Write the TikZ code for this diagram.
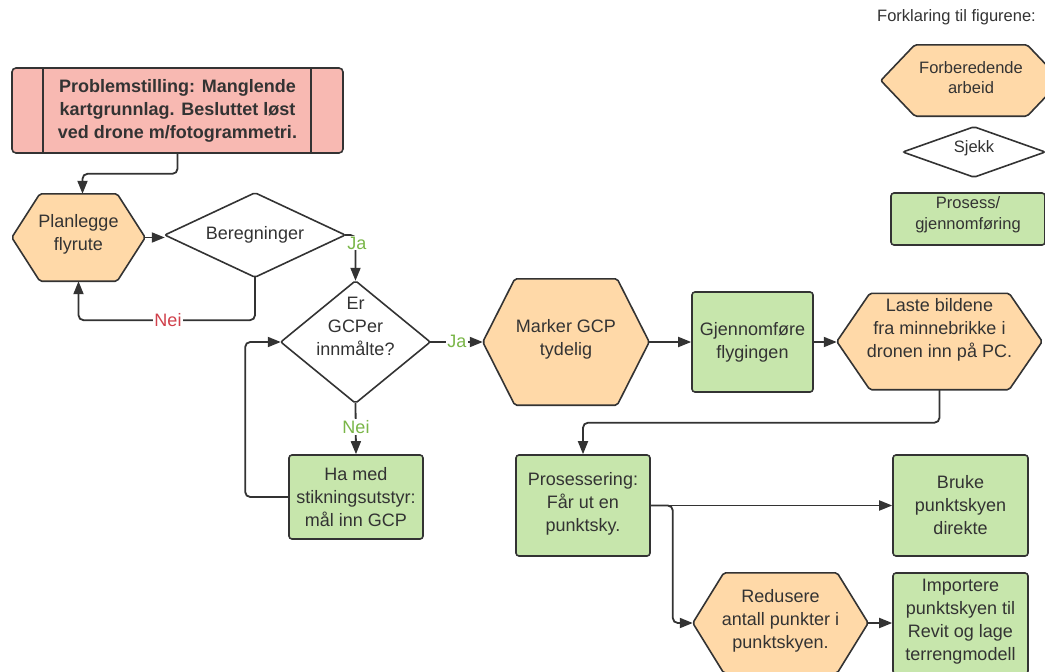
\documentclass[tikz,border=0pt]{standalone}
\usepackage{fontspec}
\setmainfont{Liberation Sans}
\usetikzlibrary{arrows.meta,backgrounds,calc}
\definecolor{ink}{HTML}{333333}
\definecolor{orangefill}{HTML}{FFD9A8}
\definecolor{greenfill}{HTML}{C7E6AC}
\definecolor{pinkfill}{HTML}{F8B9B2}
\definecolor{jagreen}{HTML}{7AB648}
\definecolor{neired}{HTML}{D0404B}

\newcommand\liftbox[2]{\raisebox{#1}[\height][\depth]{\begin{tabular}{@{}c@{}}#2\end{tabular}}}
\newcommand\drawhex[2]{\draw[shapeline, fill=orangefill] ([xshift=#2]#1.north west) -- ([xshift=-#2]#1.north east) -- (#1.east) -- ([xshift=-#2]#1.south east) -- ([xshift=#2]#1.south west) -- (#1.west) -- cycle;}
\newcommand\drawdiamond[1]{\draw[shapeline, fill=white] (#1.north) -- (#1.east) -- (#1.south) -- (#1.west) -- cycle;}

\tikzset{
 shapeline/.style={draw=ink, line width=1.6pt, rounded corners=2pt},
 txt/.style={font=\fontsize{18}{23}\selectfont, text=ink, align=center, inner sep=0pt},
 slot/.style={txt, rectangle, draw=none},
 procbox/.style={txt, rectangle, draw=ink, line width=1.6pt, fill=greenfill, rounded corners=3pt},
 conn/.style={draw=ink, line width=1.8pt, rounded corners=5pt, -{Triangle[length=13pt,width=10pt]}},
 jalabel/.style={txt, text=jagreen, fill=white, inner sep=1pt},
 neilabel/.style={txt, text=neired, fill=white, inner sep=1pt},
 legtxt/.style={font=\fontsize{16.5}{20.5}\selectfont, text=ink, align=center, inner sep=0pt},
 legslot/.style={legtxt, rectangle, draw=none},
 legbox/.style={legtxt, rectangle, draw=ink, line width=1.6pt, fill=greenfill, rounded corners=3pt},
}

\begin{document}
\begin{tikzpicture}[x=1pt, y=-1pt]
\useasboundingbox (0,0) rectangle (1045,672);

% problem statement
\node[txt, font=\fontsize{18}{23}\selectfont\bfseries, draw=ink, fill=pinkfill, rounded corners=4pt, line width=1.6pt, minimum width=331, minimum height=85] (prob) at (177.5,110.5) {Problemstilling: Manglende\\kartgrunnlag. Besluttet løst\\ved drone m/fotogrammetri.};
\draw[ink, line width=1.6pt] ([xshift=32]prob.north west) -- ([xshift=32]prob.south west);
\draw[ink, line width=1.6pt] ([xshift=-33]prob.north east) -- ([xshift=-33]prob.south east);

% flow nodes
\node[slot, minimum width=133, minimum height=87] (plan) at (78.5,237.5) {\liftbox{3pt}{Planlegge\\flyrute}};
\node[slot, minimum width=180, minimum height=84] (ber) at (255,235) {Beregninger};
\node[slot, minimum width=149, minimum height=122] (gcp) at (355.5,342) {\liftbox{14pt}{Er\\GCPer\\innmålte?}};
\node[procbox, minimum width=134, minimum height=84] (hamed) at (356,497) {Ha med\\stikningsutstyr:\\mål inn GCP};
\node[slot, minimum width=166, minimum height=126] (marker) at (566,342) {\liftbox{3pt}{Marker GCP\\tydelig}};
\node[procbox, minimum width=121, minimum height=100] (gjen) at (752.5,342) {Gjennomføre\\flygingen};
\node[slot, minimum width=205, minimum height=96] (laste) at (939.5,341.5) {\liftbox{12pt}{Laste bildene\\fra minnebrikke i\\dronen inn på PC.}};
\node[procbox, minimum width=134, minimum height=101] (pros) at (583,505.5) {\liftbox{2pt}{Prosessering:\\Får ut en\\punktsky.}};
\node[procbox, minimum width=135, minimum height=101] (bruke) at (960.5,505.5) {Bruke\\punktskyen\\direkte};
\node[slot, minimum width=175, minimum height=100] (red) at (780.5,623) {\liftbox{2pt}{Redusere\\antall punkter i\\punktskyen.}};
\node[procbox, minimum width=135, minimum height=101] (imp) at (960.5,623.5) {\liftbox{2pt}{Importere\\punktskyen til\\Revit og lage\\terrengmodell}};

% legend
\node[legtxt] (legtitle) at (956.5,17) {Forklaring til figurene:};
\node[legslot, minimum width=180, minimum height=71] (leghex) at (971,80.5) {\liftbox{1pt}{Forberedende\\arbeid}};
\node[legslot, minimum width=142, minimum height=50] (legdia) at (974,152) {\raisebox{4pt}[\height][\depth]{Sjekk}};
\node[legbox, minimum width=154, minimum height=52] (legbox) at (968,219) {\liftbox{4pt}{Prosess/\\gjennomføring}};

% shapes behind text
\begin{scope}[on background layer]
\drawhex{plan}{28}
\drawhex{marker}{32}
\drawhex{laste}{33}
\drawhex{red}{31}
\drawhex{leghex}{34}
\drawdiamond{ber}
\drawdiamond{gcp}
\drawdiamond{legdia}
\end{scope}

% connectors
\draw[conn] (prob.south) -- ++(0,20) -| ([xshift=4]plan.north);
\draw[conn] (plan.east) -- (plan.east -| ber.west);
\draw[conn] (ber.east) -| (gcp.north);
\draw[conn] (ber.south) -- ++(0,43) -| (plan.south);
\draw[conn] (gcp.east) -- (marker.west);
\draw[conn] (gcp.south) -- (hamed.north);
\draw[conn] (hamed.west) -- ++(-43,0) |- (gcp.west);
\draw[conn] (marker.east) -- (gjen.west);
\draw[conn] (gjen.east) -- (gjen.east -| laste.west);
\draw[conn] (laste.south) -- ++(0,33) -| (pros.north);
\draw[conn] (pros.east) -- (bruke.west);
\draw[conn] (pros.east) -- ++(22,0) |- (red.west);
\draw[conn] (red.east) -- (red.east -| imp.west);

% connector labels
\node[jalabel] (ja1) at (357,243) {Ja};
\node[neilabel] (nei1) at (168,320) {Nei};
\node[jalabel] (ja2) at (457,341) {Ja};
\node[jalabel] (nei2) at (356,427) {Nei};
\end{tikzpicture}
\end{document}
